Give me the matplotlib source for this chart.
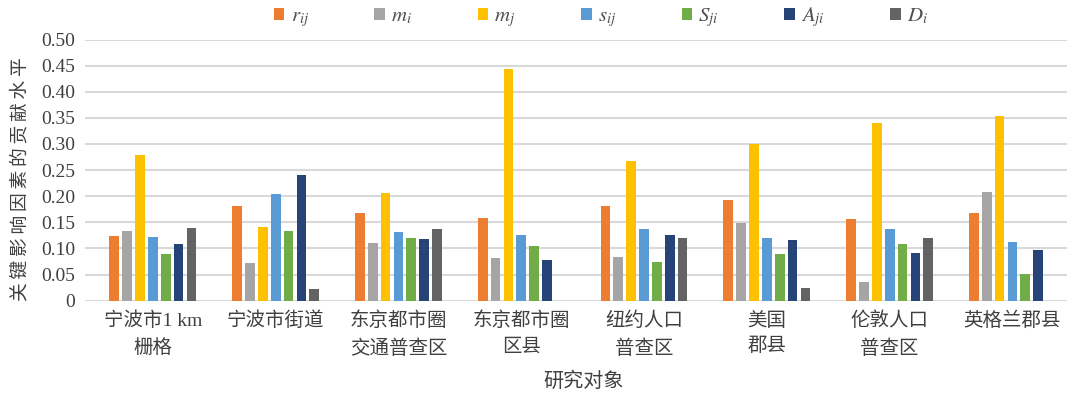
import matplotlib
matplotlib.use("Agg")
import matplotlib.pyplot as plt
import numpy as np

categories = ["宁波市1 km\n栅格", "宁波市街道", "东京都市圈\n交通普查区", "东京都市圈\n区县",
              "纽约人口\n普查区", "美国\n郡县", "伦敦人口\n普查区", "英格兰郡县"]
series_names = [r"$r_{ij}$", r"$m_i$", r"$m_j$", r"$s_{ij}$", r"$S_{ji}$", r"$A_{ji}$", r"$D_i$"]
r_ij = [0.124, 0.181, 0.168, 0.159, 0.182, 0.193, 0.156, 0.167]
m_i = [0.133, 0.072, 0.110, 0.081, 0.083, 0.148, 0.035, 0.209]
m_j = [0.278, 0.141, 0.206, 0.443, 0.268, 0.300, 0.341, 0.353]
s_ij = [0.122, 0.205, 0.131, 0.125, 0.137, 0.120, 0.137, 0.113]
S_ji = [0.089, 0.133, 0.120, 0.104, 0.075, 0.090, 0.108, 0.051]
A_ji = [0.108, 0.241, 0.118, 0.078, 0.126, 0.117, 0.091, 0.098]
D_i = [0.140, 0.022, 0.137, np.nan, 0.120, 0.025, 0.120, np.nan]
series = [r_ij, m_i, m_j, s_ij, S_ji, A_ji, D_i]
yticks = [0, 0.05, 0.10, 0.15, 0.20, 0.25, 0.30, 0.35, 0.40, 0.45, 0.50]
ytick_labels = ["0", "0.05", "0.10", "0.15", "0.20", "0.25", "0.30", "0.35", "0.40", "0.45", "0.50"]
y_title = "关键影响因素的贡献水平"
x_title = "研究对象"

colors = ["#ED7D31", "#A5A5A5", "#FFC000", "#5B9BD5", "#70AD47", "#264478", "#636363"]

plt.rcParams["mathtext.fontset"] = "stix"
cjk = ["Liberation Serif", "Noto Sans CJK SC", "DejaVu Sans"]
cjk_sp = ["Noto Sans CJK SC", "DejaVu Sans"]
tcol = "#404040"

fig = plt.figure(figsize=(10.8, 4.01), dpi=100)
ax = fig.add_axes([85 / 1080, 1 - 300.7 / 401, (1067 - 85) / 1080, (300.7 - 39.5) / 401])

x = np.arange(len(categories))
slot = 0.1047
width = 0.079
for k, (vals, c, name) in enumerate(zip(series, colors, series_names)):
    ax.bar(x + (k - 3) * slot, vals, width=width, color=c, label=name, zorder=3)

ax.set_ylim(0, 0.5)
ax.set_xlim(-0.5525, 7.444)
ax.set_yticks(yticks)
ax.set_yticklabels(ytick_labels, fontfamily="Liberation Serif", fontsize=14, color=tcol)
ax.set_xticks(x)
ax.set_xticklabels(categories, fontfamily=cjk, fontsize=14, color=tcol, linespacing=1.6)
ax.tick_params(axis="both", length=0)
ax.tick_params(axis="y", pad=7)
ax.tick_params(axis="x", pad=8)
for s in ax.spines.values():
    s.set_visible(False)
ax.grid(axis="y", color="#D9D9D9", linewidth=1.5, zorder=0)
ax.set_axisbelow(True)

fig.text(20 / 1080, 1 - 179 / 401, "\u2009".join(y_title), fontfamily=cjk_sp, fontsize=13.5,
         color=tcol, rotation=90, ha="center", va="center")
fig.text(584 / 1080, 1 - 381 / 401, x_title, fontfamily=cjk_sp, fontsize=14.5, color=tcol,
         ha="center", va="center")

leg = fig.legend(loc="center", bbox_to_anchor=(601 / 1080, 1 - 17 / 401), ncol=7, frameon=False,
                 fontsize=15, handlelength=0.5, handleheight=0.5, handletextpad=0.3,
                 columnspacing=3.15, labelcolor="#505050")

fig.savefig("out.png", dpi=100, facecolor="white")
